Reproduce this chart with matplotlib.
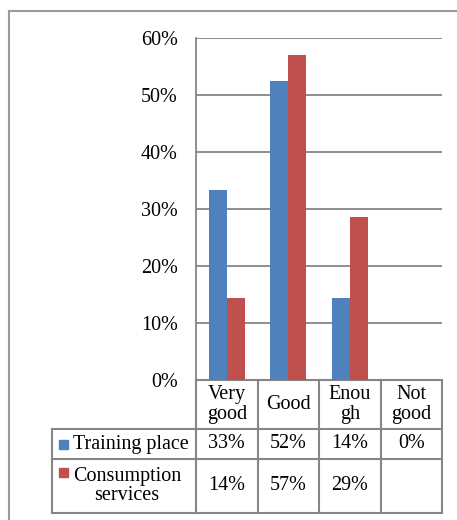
import matplotlib.pyplot as plt
import numpy as np
from matplotlib.transforms import blended_transform_factory
from matplotlib.patches import Rectangle

# data
categories = ["Very\ngood", "Good", "Enou\ngh", "Not\ngood"]
training = [0.333, 0.524, 0.143, 0.0]
consumption = [0.143, 0.571, 0.286, 0.0]
training_lbl = ["33%", "52%", "14%", "0%"]
consumption_lbl = ["14%", "57%", "29%", ""]
series_names = ["Training place", "Consumption\nservices"]
yticks = [0, 0.1, 0.2, 0.3, 0.4, 0.5, 0.6]

blue = "#4F81BD"
red = "#C0504D"
grey = "#868686"
W, H = 457, 520

plt.rcParams['font.family'] = ['Liberation Serif', 'DejaVu Serif']
fs = 14.5

fig = plt.figure(figsize=(W / 100, H / 100), dpi=100)
ax = fig.add_axes([196 / W, 1 - 380 / H, (442 - 196) / W, (380 - 38) / H])

x = np.arange(len(categories))
bw = 0.29
ax.bar(x - bw / 2, training, bw, color=blue, zorder=3)
ax.bar(x + bw / 2, consumption, bw, color=red, zorder=3)

ax.set_xlim(-0.5, len(categories) - 0.5)
ax.set_ylim(0, 0.6)
ax.set_yticks(yticks)
ax.set_yticklabels(["%d%%" % round(v * 100) for v in yticks], fontsize=fs)
ax.tick_params(axis='y', length=0, pad=13)
ax.set_xticks([])
ax.grid(axis='y', color=grey, lw=1.3, zorder=0)
for s in ['top', 'right', 'bottom']:
    ax.spines[s].set_visible(False)
ax.spines['left'].set_color(grey)
ax.spines['left'].set_linewidth(1.3)

# data table below the plot
tr = blended_transform_factory(ax.transData, fig.transFigure)
fy = lambda p: 1 - p / H
fx = lambda p: p / W
rows = [380, 429, 459, 513]
lc = dict(color=grey, lw=1.5, clip_on=False)

# column lines
for b in np.arange(len(categories) + 1) - 0.5:
    ax.plot([b, b], [fy(rows[0]), fy(rows[3])], transform=tr, **lc)
# row lines across the data columns
for r in rows:
    ax.plot([-0.5, len(categories) - 0.5], [fy(r), fy(r)], transform=tr, **lc)
# legend column
for r in rows[1:]:
    fig.add_artist(plt.Line2D([fx(52), fx(196)], [fy(r), fy(r)], transform=fig.transFigure, **lc))
fig.add_artist(plt.Line2D([fx(52), fx(52)], [fy(rows[1]), fy(rows[3])], transform=fig.transFigure, **lc))

for i, c in enumerate(categories):
    ax.text(i, fy((rows[0] + rows[1]) / 2), c, transform=tr, ha='center', va='center',
            fontsize=fs, linespacing=1.05)
    ax.text(i, fy((rows[1] + rows[2]) / 2), training_lbl[i], transform=tr, ha='center',
            va='center', fontsize=fs)
    ax.text(i, fy((rows[2] + rows[3]) / 2), consumption_lbl[i], transform=tr, ha='center',
            va='center', fontsize=fs)

# legend keys and row labels
fig.add_artist(Rectangle((fx(59), fy(449)), fx(9), 9 / H, color=blue, transform=fig.transFigure))
fig.text(fx(73), fy((rows[1] + rows[2]) / 2), series_names[0], ha='left', va='center', fontsize=fs)
fig.add_artist(Rectangle((fx(59), fy(477)), fx(9), 9 / H, color=red, transform=fig.transFigure))
fig.text(fx(127), fy((rows[2] + rows[3]) / 2), series_names[1], ha='center', va='center',
         fontsize=fs, multialignment='center', linespacing=1.05)

# outer chart border
bl = dict(color="#9a9a9a", lw=1.5, transform=fig.transFigure)
fig.add_artist(plt.Line2D([fx(9), 1], [fy(10.5), fy(10.5)], **bl))
fig.add_artist(plt.Line2D([fx(9), fx(9)], [fy(10.5), 0], **bl))

fig.savefig("out.png", dpi=100)
